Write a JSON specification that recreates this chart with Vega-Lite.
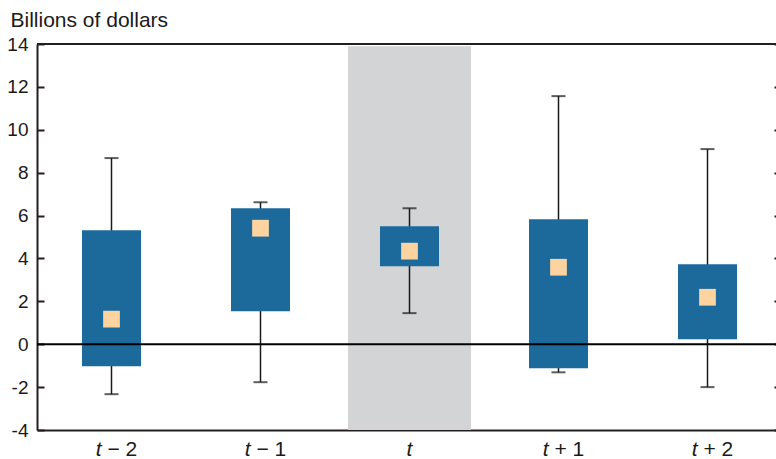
{
  "$schema": "https://vega.github.io/schema/vega-lite/v6.json",
  "width": 745,
  "height": 386,
  "autosize": {"type": "none"},
  "padding": {"left": 37, "top": 44, "right": 0, "bottom": 29},
  "background": "white",
  "config": {
    "view": {"stroke": null},
    "font": "Liberation Sans",
    "axis": {"grid": false, "domainColor": "#231f20", "domainWidth": 2, "tickColor": "#231f20", "tickWidth": 2, "labelFont": "Liberation Sans", "labelColor": "#1a1a1a", "labelFontSize": 19, "zindex": 1},
    "axisX": {"labels": false, "ticks": false},
    "axisLeft": {"tickSize": -7, "labelPadding": 16},
    "axisRight": {"labels": false, "domain": false, "tickSize": -8}
  },
  "data": {"values": [
    {"cat": "t − 2", "rest": "− 2", "lo": -2.33, "q1": -1.03, "med": 1.17, "q3": 5.32, "hi": 8.68},
    {"cat": "t − 1", "rest": "− 1", "lo": -1.77, "q1": 1.54, "med": 5.41, "q3": 6.34, "hi": 6.62},
    {"cat": "t", "rest": "", "lo": 1.45, "q1": 3.64, "med": 4.34, "q3": 5.5, "hi": 6.34},
    {"cat": "t + 1", "rest": "+ 1", "lo": -1.31, "q1": -1.12, "med": 3.59, "q3": 5.83, "hi": 11.57},
    {"cat": "t + 2", "rest": "+ 2", "lo": -2.0, "q1": 0.23, "med": 2.19, "q3": 3.73, "hi": 9.1}
  ]},
  "resolve": {"axis": {"y": "independent"}},
  "layer": [
    {
      "transform": [{"filter": "datum.cat === 't'"}],
      "mark": {"type": "bar", "color": "#d3d4d6", "width": {"band": 0.826}},
      "encoding": {
        "x": {"field": "cat", "type": "nominal", "title": null, "scale": {"type": "band", "paddingInner": 0, "paddingOuter": 0, "domain": ["t − 2", "t − 1", "t", "t + 1", "t + 2"]}},
        "y": {"datum": -4, "type": "quantitative", "scale": {"domain": [-4, 14], "nice": false, "zero": false}, "axis": {"orient": "left", "title": "Billions of dollars", "titleAngle": 0, "titleX": -27, "titleY": -18, "titleAlign": "left", "titleAnchor": null, "titleBaseline": "alphabetic", "titleFont": "Liberation Sans", "titleFontSize": 21, "titleFontWeight": "normal", "titleColor": "#1a1a1a", "values": [-4, -2, 0, 2, 4, 6, 8, 10, 12, 14], "labelExpr": "replace(datum.label, '−', '-')"}},
        "y2": {"datum": 13.9}
      }
    },
    {
      "mark": {"type": "rule", "color": "#1a1a1a", "strokeWidth": 1.5},
      "encoding": {
        "x": {"field": "cat", "type": "nominal", "title": null},
        "y": {"field": "lo", "type": "quantitative", "axis": {"orient": "right", "title": null, "values": [-4, -2, 0, 2, 4, 6, 8, 10, 12, 14]}},
        "y2": {"field": "hi"}
      }
    },
    {
      "mark": {"type": "tick", "color": "#1a1a1a", "size": 14, "thickness": 2},
      "encoding": {
        "x": {"field": "cat", "type": "nominal", "title": null},
        "y": {"field": "lo", "type": "quantitative", "axis": null}
      }
    },
    {
      "mark": {"type": "tick", "color": "#1a1a1a", "size": 14, "thickness": 2},
      "encoding": {
        "x": {"field": "cat", "type": "nominal", "title": null},
        "y": {"field": "hi", "type": "quantitative", "axis": null}
      }
    },
    {
      "mark": {"type": "bar", "color": "#1c6a9c", "width": {"band": 0.396}},
      "encoding": {
        "x": {"field": "cat", "type": "nominal", "title": null},
        "y": {"field": "q1", "type": "quantitative", "axis": null},
        "y2": {"field": "q3"}
      }
    },
    {
      "data": {"values": [{"v": 0}]},
      "mark": {"type": "rule", "color": "#000000", "strokeWidth": 2},
      "encoding": {
        "y": {"field": "v", "type": "quantitative", "axis": null}
      }
    },
    {
      "data": {"values": [{"v": 14}]},
      "mark": {"type": "rule", "color": "#231f20", "strokeWidth": 2},
      "encoding": {
        "y": {"field": "v", "type": "quantitative", "axis": null}
      }
    },
    {
      "mark": {"type": "point", "shape": "square", "filled": true, "opacity": 1, "size": 280, "color": "#fdd49f"},
      "encoding": {
        "x": {"field": "cat", "type": "nominal", "title": null},
        "y": {"field": "med", "type": "quantitative", "axis": null}
      }
    },
    {
      "transform": [{"filter": "datum.rest !== ''"}],
      "mark": {"type": "text", "text": "t", "fontStyle": "italic", "fontSize": 21, "align": "right", "baseline": "alphabetic", "dx": -10, "dy": 26, "color": "#1a1a1a"},
      "encoding": {
        "x": {"field": "cat", "type": "nominal", "title": null},
        "y": {"datum": -4, "type": "quantitative", "axis": null}
      }
    },
    {
      "transform": [{"filter": "datum.rest !== ''"}],
      "mark": {"type": "text", "fontSize": 21, "align": "left", "baseline": "alphabetic", "dx": -4, "dy": 26, "color": "#1a1a1a"},
      "encoding": {
        "x": {"field": "cat", "type": "nominal", "title": null},
        "y": {"datum": -4, "type": "quantitative", "axis": null},
        "text": {"field": "rest"}
      }
    },
    {
      "transform": [{"filter": "datum.rest === ''"}],
      "mark": {"type": "text", "text": "t", "fontStyle": "italic", "fontSize": 21, "align": "center", "baseline": "alphabetic", "dy": 26, "color": "#1a1a1a"},
      "encoding": {
        "x": {"field": "cat", "type": "nominal", "title": null},
        "y": {"datum": -4, "type": "quantitative", "axis": null}
      }
    }
  ]
}
